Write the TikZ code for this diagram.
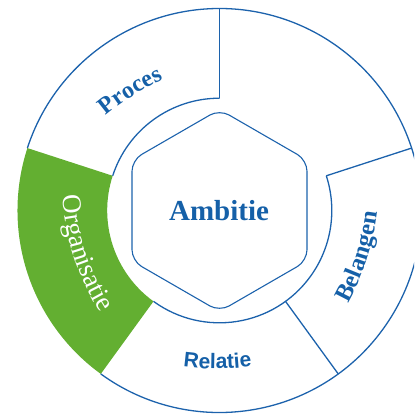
\documentclass[tikz,border=0pt]{standalone}
\usepackage{fontspec}
\setmainfont{Liberation Serif}
\newfontfamily\labsans{Liberation Sans}
\usetikzlibrary{calc,decorations.text}
\definecolor{ringblue}{HTML}{1C62AC}
\definecolor{textblue}{HTML}{1560A8}
\definecolor{orggreen}{HTML}{63AF31}
\tikzset{
  ring/.style={draw=ringblue, line width=1.3pt},
  hexline/.style={draw=ringblue, line width=1.1pt, rounded corners=11pt},
  mainlab/.style={text=textblue, font=\bfseries\fontsize{29}{32}\selectfont, inner sep=0pt},
}
\begin{document}
\begin{tikzpicture}[x=1pt,y=1pt]
\useasboundingbox (-219.5,-208.5) rectangle (194.5,210.5);
\clip (-219.5,-208.5) rectangle (194.5,210.5);
% green sector
\fill[orggreen] (162:202) arc[start angle=162,end angle=234,radius=202]
  -- (234:112.3) arc[start angle=234,end angle=162,radius=112.3] -- cycle;
% outer ring outline
\draw[ring] (234:202) arc[start angle=234,end angle=522,radius=202];
% inner arcs
\draw[ring] (90:112.3) arc[start angle=90,end angle=162,radius=112.3];
\draw[ring] (234:112.3) arc[start angle=234,end angle=378,radius=112.3];
% dividers
\draw[ring] (90:112.3) -- (90:202);
\draw[ring] (306:112.3) -- (306:202);
\draw[ring] (18:112.3) -- (18:202);
% hexagon
\draw[hexline] (90:101) -- (150:101) -- (210:101) -- (270:101) -- (330:101) -- (30:101) -- cycle;
% centre label
\node[mainlab] (ambitie) at (-0.5,0) {Ambitie};
% curved labels: baseline points and arc centres
\coordinate (procesB) at ($(-90.3,121.8)+(122:-8)$);
\coordinate (procesC) at ($(procesB)+(122:-250)$);
\coordinate (orgB) at ($(-139.5,-44.5)+(198:6)$);
\coordinate (orgC) at ($(orgB)+(198:-250)$);
\coordinate (belB) at ($(142,-47)+(-18:6)$);
\coordinate (belC) at ($(belB)+(-18:-250)$);
\coordinate (relB) at (-2,-158.3);
\coordinate (relC) at ($(relB)+(-90:-250)$);
\path[decorate, decoration={text along path, text align=center, text color=textblue,
  text={|\bfseries\fontsize{24}{28}\selectfont|Proces}}]
  ($(procesC)+(144:250)$) arc[start angle=144, end angle=100, radius=250];
\path[decorate, decoration={text along path, text align=center, text color=white,
  text={|\fontsize{27}{30}\selectfont|Organisatie}}]
  ($(orgC)+(174:250)$) arc[start angle=174, end angle=222, radius=250];
\path[decorate, decoration={text along path, text align=center, text color=textblue,
  text={|\bfseries\fontsize{24.5}{28}\selectfont|Belangen}}]
  ($(belC)+(-42:250)$) arc[start angle=-42, end angle=6, radius=250];
\path[decorate, decoration={text along path, text align=center, text color=textblue,
  text={|\labsans\bfseries\fontsize{21}{24}\selectfont|Relatie}}]
  ($(relC)+(-112:250)$) arc[start angle=-112, end angle=-68, radius=250];
\end{tikzpicture}
\end{document}
